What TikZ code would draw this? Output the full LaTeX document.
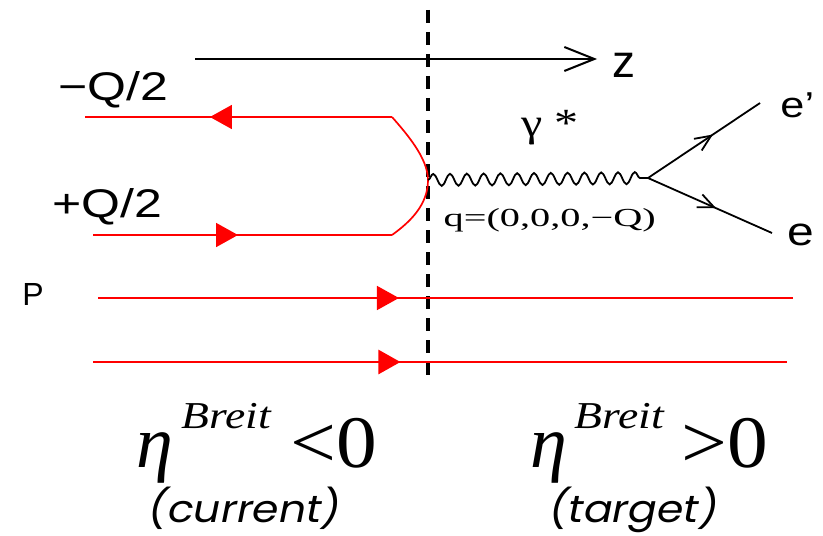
\documentclass[tikz,border=0pt]{standalone}
\usepackage{fontspec}
\setmainfont{Liberation Serif}
\newfontfamily\arialf{Liberation Sans}
\newfontfamily\comicf{Poppins}
\usetikzlibrary{arrows.meta,decorations.pathmorphing,decorations.markings}
\definecolor{fred}{RGB}{255,0,0}
\tikzset{
  redline/.style={draw=fred, line width=0.85pt},
  redthick/.style={draw=fred, line width=1.3pt},
  redmid/.style={postaction={decorate},decoration={markings,
      mark=at position #1 with {\arrow[fred]{Triangle[length=11pt,width=12pt]}}}},
  elmid/.style={postaction={decorate},decoration={markings,
      mark=at position #1 with {\arrow{Straight Barb[length=8pt,width=7pt,line width=0.9pt]}}}},
  sanslab/.style={inner sep=0pt, font=\arialf\fontsize{20}{22}\selectfont, xscale=1.25},
  serlab/.style={inner sep=0pt},
  etalab/.style={inner sep=0pt, font=\fontsize{37}{40}\selectfont\itshape},
  breitlab/.style={inner sep=0pt, font=\fontsize{19}{21}\selectfont\itshape, xscale=1.2},
  rellab/.style={inner sep=0pt, font=\fontsize{37}{40}\selectfont, xscale=1.1},
  comiclab/.style={inner sep=0pt, font=\comicf\itshape\fontsize{19}{21}\selectfont, xscale=1.12}
}
\begin{document}
\begin{tikzpicture}[x=0.5pt,y=-0.5pt]
\useasboundingbox (0,0) rectangle (823,535);
% dashed separator
\coordinate (dtop) at (428,10);
\coordinate (dbot) at (428,380);
\draw[line width=1.7pt, dash pattern=on 6.5pt off 4.5pt] (dtop) -- (dbot);
% z axis
\coordinate (zs) at (195,59);
\coordinate (ze) at (597,59);
\draw[line width=1pt, -{Straight Barb[length=15pt,width=12pt,line width=1pt]}] (zs) -- (ze);
\node[inner sep=0pt, anchor=base west, font=\arialf\fontsize{23}{25}\selectfont] (zlab) at (612,77) {z};
% quark loop
\coordinate (la) at (93,235);
\coordinate (lb) at (392,235);
\coordinate (ua) at (392,117);
\coordinate (ub) at (85,117);
\coordinate (vq) at (428,180);
\draw[redline, redmid=0.485] (la) -- (lb);
\draw[redline] (lb) .. controls (410,222) and (428,205) .. (vq)
               .. controls (428,158) and (406,133) .. (ua);
\draw[redline, redmid=0.593] (ua) -- (ub);
\node[sanslab, anchor=base west] (mq) at (58,100) {−Q/2};
\node[sanslab, anchor=base west] (pq) at (52,217) {+Q/2};
% proton lines
\node[inner sep=0pt, anchor=base west, font=\arialf\fontsize{16}{18}\selectfont] (plab) at (22,305) {P};
\coordinate (p1a) at (98,298);
\coordinate (p1b) at (793,298);
\coordinate (p2a) at (93,362);
\coordinate (p2b) at (787,362);
\draw[redline, redmid=0.433] (p1a) -- (p1b);
\draw[redthick, redmid=0.443] (p2a) -- (p2b);
% photon
\coordinate (vx) at (648,178);
\draw[line width=0.9pt, decorate, decoration={snake, amplitude=3pt, segment length=8.4pt}] (vq) -- (vx);
\node[serlab, anchor=base west, font=\fontsize{20}{22}\selectfont, xscale=1.2] (gam) at (521,136) {γ *};
\node[serlab, anchor=base west, font=\fontsize{13}{15}\selectfont, xscale=1.55] (qlab) at (443,226) {q=(0,0,0,−Q)};
% electrons
\coordinate (ep) at (760,103);
\coordinate (ee) at (772,233);
\draw[line width=0.9pt, elmid=0.58] (vx) -- (ep);
\draw[line width=0.9pt, elmid=0.55] (vx) -- (ee);
\node[inner sep=0pt, anchor=base west, font=\arialf\fontsize{18}{20}\selectfont, xscale=1.2] (eplab) at (780,118) {e’};
\node[inner sep=0pt, anchor=base west, font=\arialf\fontsize{20}{22}\selectfont, xscale=1.2] (elab) at (787,245) {e};
% eta labels
\node[etalab, anchor=base west] (eta1) at (136,467) {η};
\node[breitlab, anchor=base west] (br1) at (181,428) {Breit};
\node[rellab, anchor=base west] (rel1) at (290,467) {<0};
\node[etalab, anchor=base west] (eta2) at (530,467) {η};
\node[breitlab, anchor=base west] (br2) at (574,428) {Breit};
\node[rellab, anchor=base west] (rel2) at (681,467) {>0};
\node[comiclab, anchor=base] (cur) at (245,522) {(current)};
\node[comiclab, anchor=base] (tar) at (634,522) {(target)};
\end{tikzpicture}
\end{document}
